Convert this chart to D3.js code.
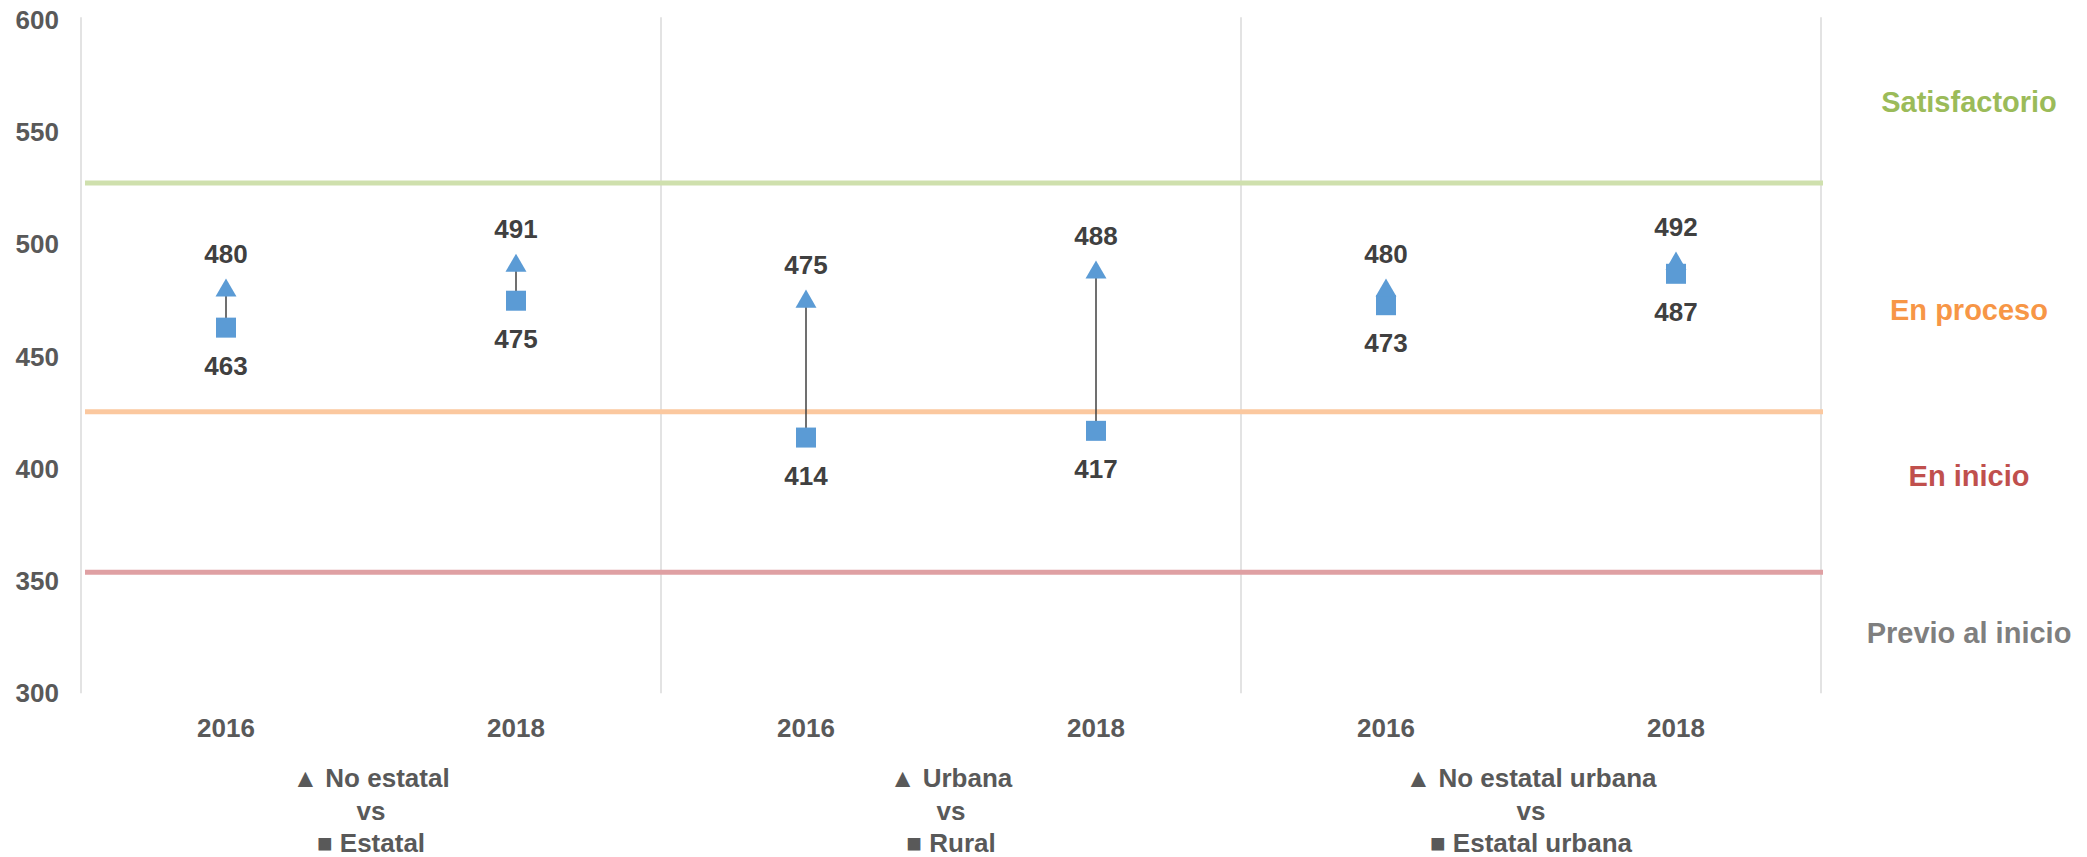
<!DOCTYPE html>
<html>
<head>
<meta charset="utf-8">
<script src="https://cdn.jsdelivr.net/npm/d3@7"></script>
<style>
  body { margin: 0; background: #fff; }
  svg { font-family: "Liberation Sans", Arial, sans-serif; font-weight: bold; }
</style>
</head>
<body>
<div id="chart"></div>
<script>
// data
const categories = ["g1-2016", "g1-2018", "g2-2016", "g2-2018", "g3-2016", "g3-2018"];
const years = ["2016", "2018", "2016", "2018", "2016", "2018"];
const upperValues = [480, 491, 475, 488, 480, 492];   // triangle
const lowerValues = [463, 475, 414, 417, 473, 487];   // square
const groupLabels = [
	["▲ No estatal", "vs", "■ Estatal"],
	["▲ Urbana", "vs", "■ Rural"],
	["▲ No estatal urbana", "vs", "■ Estatal urbana"]
];
const thresholds = [527.5, 425.5, 354];
const thresholdColors = ["#cfe0ad", "#fbc89f", "#dfa0a3"];
const levelNames = ["Satisfactorio", "En proceso", "En inicio", "Previo al inicio"];
const levelAt = [563.5, 471, 397, 327];
const levelColors = ["#9bbb59", "#f79646", "#c0504d", "#7f7f7f"];
const yTicks = [300, 350, 400, 450, 500, 550, 600];

const width = 2087;
const height = 857;
const plotLeft = 81;
const plotRight = 1821;
const plotTop = 20.3;
const plotBottom = 693.3;
const markerColor = "#5b9bd5";
const labelColor = "#404040";
const tickColor = "#595959";

const svg = d3.select("#chart").append("svg")
	.attr("width", width)
	.attr("height", height);

const x = d3.scaleBand()
	.domain(categories)
	.range([plotLeft, plotRight])
	.padding(0);

const y = d3.scaleLinear()
	.domain([300, 600])
	.range([plotBottom, plotTop]);

// vertical separators (every 2 categories)
const sepX = [plotLeft].concat(d3.range(1, 4).map(i => x(categories[i * 2 - 1]) + x.bandwidth()));
svg.append("g")
	.selectAll("line")
	.data(sepX)
	.join("line")
	.attr("x1", d => d).attr("x2", d => d)
	.attr("y1", plotTop - 3).attr("y2", plotBottom)
	.attr("stroke", "#e3e3e3")
	.attr("stroke-width", 2);

// threshold lines
svg.append("g")
	.selectAll("line")
	.data(thresholds)
	.join("line")
	.attr("x1", plotLeft + 4).attr("x2", plotRight + 2)
	.attr("y1", d => y(d)).attr("y2", d => y(d))
	.attr("stroke", (d, i) => thresholdColors[i])
	.attr("stroke-width", 5);

// y axis
const yAxis = svg.append("g")
	.attr("transform", `translate(${plotLeft},0)`)
	.call(d3.axisLeft(y).tickValues(yTicks).tickSize(0).tickPadding(22));
yAxis.select(".domain").remove();
yAxis.selectAll("text")
	.style("font-size", "26px")
	.style("font-family", "Liberation Sans, Arial, sans-serif")
	.style("font-weight", "bold")
	.attr("fill", tickColor);

// x axis
const xAxis = svg.append("g")
	.attr("transform", `translate(0,${plotBottom})`)
	.call(d3.axisBottom(x).tickSize(0).tickPadding(25).tickFormat((d, i) => years[i]));
xAxis.select(".domain").remove();
xAxis.selectAll("text")
	.style("font-size", "26px")
	.style("font-family", "Liberation Sans, Arial, sans-serif")
	.style("font-weight", "bold")
	.attr("fill", tickColor);

// group labels under the axis
const groupG = svg.append("g")
	.attr("text-anchor", "middle")
	.style("font-size", "26px")
	.attr("fill", tickColor);
groupLabels.forEach((lines, gi) => {
	const cx = x(categories[gi * 2]) + x.bandwidth();
	groupG.append("text")
		.attr("x", cx)
		.attr("y", 778)
		.selectAll("tspan")
		.data(lines)
		.join("tspan")
		.attr("x", cx)
		.attr("y", (d, i) => 778 + i * 32.5)
		.attr("dy", "0.35em")
		.text(d => d);
});

// level labels on the right
svg.append("g")
	.attr("text-anchor", "middle")
	.style("font-size", "29px")
	.selectAll("text")
	.data(levelNames)
	.join("text")
	.attr("x", 1969)
	.attr("y", (d, i) => y(levelAt[i]))
	.attr("dy", "0.35em")
	.attr("fill", (d, i) => levelColors[i])
	.text(d => d);

const cx = (d, i) => x(categories[i]) + x.bandwidth() / 2;

// connecting lines
svg.append("g")
	.selectAll("line")
	.data(categories)
	.join("line")
	.attr("x1", cx).attr("x2", cx)
	.attr("y1", (d, i) => y(lowerValues[i]))
	.attr("y2", (d, i) => y(upperValues[i]))
	.attr("stroke", "#404040")
	.attr("stroke-width", 1.5);

// squares
const sq = 20;
svg.append("g")
	.selectAll("rect")
	.data(categories)
	.join("rect")
	.attr("x", (d, i) => cx(d, i) - sq / 2)
	.attr("y", (d, i) => y(lowerValues[i]) - sq / 2)
	.attr("width", sq)
	.attr("height", sq)
	.attr("fill", markerColor);

// triangles
const tri = d3.symbol().type(d3.symbolTriangle).size(190);
svg.append("g")
	.selectAll("path")
	.data(categories)
	.join("path")
	.attr("transform", (d, i) => `translate(${cx(d, i)},${y(upperValues[i]) + 1})`)
	.attr("d", tri)
	.attr("fill", markerColor);

// value labels
const valG = svg.append("g")
	.attr("text-anchor", "middle")
	.style("font-size", "26px")
	.attr("fill", labelColor);
valG.selectAll("text.up")
	.data(categories)
	.join("text")
	.attr("class", "up")
	.attr("x", cx)
	.attr("y", (d, i) => y(upperValues[i]) - 36)
	.attr("dy", "0.35em")
	.text((d, i) => upperValues[i]);
valG.selectAll("text.down")
	.data(categories)
	.join("text")
	.attr("class", "down")
	.attr("x", cx)
	.attr("y", (d, i) => y(lowerValues[i]) + 38)
	.attr("dy", "0.35em")
	.text((d, i) => lowerValues[i]);
</script>
</body>
</html>
